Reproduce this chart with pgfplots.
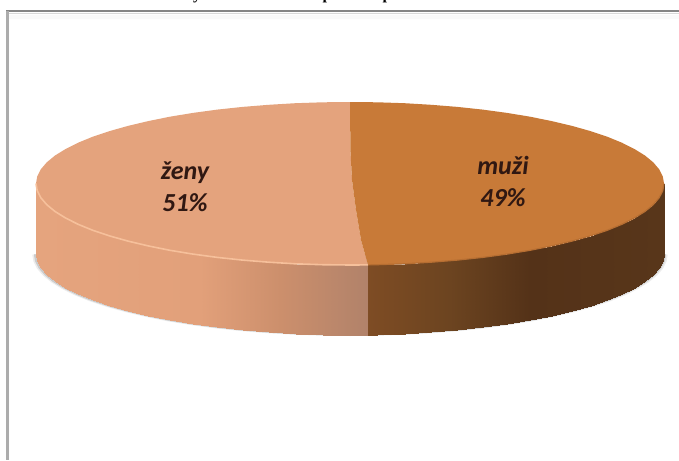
\documentclass[border=0pt]{standalone}
\usepackage{fontspec}
\setmainfont{Carlito}
\newfontfamily\serif{Liberation Serif}
\usepackage{pgfplots}
\usepackage{pgfplotstable}
\pgfplotsset{compat=1.18}

\definecolor{zeny}{RGB}{228,163,125}
\definecolor{zenyrim}{RGB}{246,192,155}
\definecolor{muzi}{RGB}{200,122,56}
\definecolor{muzirim}{RGB}{182,110,50}
\definecolor{labeltext}{RGB}{48,24,18}

% front arc of the top face, px coordinates
\pgfplotstableread{
x y
36.0 183.5
37.2 190.6
40.8 197.7
46.7 204.6
54.9 211.4
65.4 217.9
78.1 224.3
92.8 230.3
109.5 235.9
128.0 241.1
148.2 245.9
169.9 250.3
193.0 254.1
217.3 257.4
242.6 260.1
268.7 262.2
295.5 263.8
322.6 264.7
350.0 265.0
368.0 264.9
377.4 264.7
404.5 263.8
431.3 262.2
457.4 260.1
482.7 257.4
507.0 254.1
530.1 250.3
551.8 245.9
572.0 241.1
590.5 235.9
607.2 230.3
621.9 224.3
634.6 217.9
645.1 211.4
653.3 204.6
659.2 197.7
662.8 190.6
664.0 183.5
}\frontarc

% side wall: first row top edge, second row bottom edge
\pgfplotstableread{
x y
36.0 183.5
37.2 190.6
40.8 197.7
46.7 204.6
54.9 211.4
65.4 217.9
78.1 224.3
92.8 230.3
109.5 235.9
128.0 241.1
148.2 245.9
169.9 250.3
193.0 254.1
217.3 257.4
242.6 260.1
268.7 262.2
295.5 263.8
322.6 264.7
350.0 265.0
367.9 264.9
368.1 264.9
377.4 264.7
404.5 263.8
431.3 262.2
457.4 260.1
482.7 257.4
507.0 254.1
530.1 250.3
551.8 245.9
572.0 241.1
590.5 235.9
607.2 230.3
621.9 224.3
634.6 217.9
645.1 211.4
653.3 204.6
659.2 197.7
662.8 190.6
664.0 183.5
36.0 253.5
37.2 260.6
40.8 267.7
46.7 274.6
54.9 281.4
65.4 287.9
78.1 294.3
92.8 300.3
109.5 305.9
128.0 311.1
148.2 315.9
169.9 320.3
193.0 324.1
217.3 327.4
242.6 330.1
268.7 332.2
295.5 333.8
322.6 334.7
350.0 335.0
367.9 334.9
368.1 334.9
377.4 334.7
404.5 333.8
431.3 332.2
457.4 330.1
482.7 327.4
507.0 324.1
530.1 320.3
551.8 315.9
572.0 311.1
590.5 305.9
607.2 300.3
621.9 294.3
634.6 287.9
645.1 281.4
653.3 274.6
659.2 267.7
662.8 260.6
664.0 253.5
}\sidewall

\begin{document}
\begin{tikzpicture}
\path[use as bounding box] (0pt,0pt) rectangle (679pt,460pt);
\begin{axis}[
  width=679pt, height=460pt, scale only axis,
  at={(0pt,0pt)}, anchor=south west,
  hide axis, clip=true, clip mode=global,
  xmin=0, xmax=679, ymin=0, ymax=460, y dir=reverse,
  colormap={sidegrad}{
    rgb255(36)=(229,164,126)
    rgb255(200)=(226,160,122)
    rgb255(280)=(204,143,108)
    rgb255(367.9)=(177,130,106)
    rgb255(368.1)=(126,76,36)
    rgb255(450)=(108,68,32)
    rgb255(530)=(84,50,24)
    rgb255(664)=(88,54,26)
  },
  point meta min=36, point meta max=664,
]
% frame of the pasted picture
\addplot[gray!4, line width=4pt, forget plot] coordinates {(9,17) (679,17)};
\addplot[gray!30, line width=1.5pt, forget plot] coordinates {(9,13.5) (679,13.5)};
\addplot[gray!95, line width=2pt, forget plot] coordinates {(6,11.5) (679,11.5)};
\addplot[gray!65, line width=3pt, forget plot] coordinates {(7.5,11) (7.5,460)};

% shadow under the disc
\addplot[fill=gray, fill opacity=0.15, draw=none, forget plot]
  table[x expr={350+(\thisrow{x}-350)*1.012}, y expr={\thisrow{y}+71}] {\frontarc} -- cycle;
\addplot[fill=gray, fill opacity=0.3, draw=none, forget plot]
  table[x expr={350+(\thisrow{x}-350)*1.007}, y expr={\thisrow{y}+70.5}] {\frontarc} -- cycle;

% side wall
\addplot[surf, shader=interp, mesh/rows=2, point meta=x, forget plot] table {\sidewall};

% top face
\addplot[fill=zeny, draw=none, forget plot] coordinates {
  (350,102) (322.6,102.3) (295.5,103.2) (268.7,104.8) (242.6,106.9) (217.3,109.6)
  (193,112.9) (169.9,116.7) (148.2,121.1) (128,125.9) (109.5,131.1) (92.8,136.7)
  (78.1,142.7) (65.4,149.1) (54.9,155.6) (46.7,162.4) (40.8,169.3) (37.2,176.4)
  (36,183.5) (37.2,190.6) (40.8,197.7) (46.7,204.6) (54.9,211.4) (65.4,217.9)
  (78.1,224.3) (92.8,230.3) (109.5,235.9) (128,241.1) (148.2,245.9) (169.9,250.3)
  (193,254.1) (217.3,257.4) (242.6,260.1) (268.7,262.2) (295.5,263.8) (322.6,264.7)
  (350,265) (368,264.9) (361,240) (356,210) (352,180) (350.4,150)
} -- cycle;
\addplot[fill=muzi, draw=none, forget plot] coordinates {
  (350,102) (350.4,150) (352,180) (356,210) (361,240) (368,264.9)
  (377.4,264.7) (404.5,263.8) (431.3,262.2) (457.4,260.1) (482.7,257.4) (507,254.1)
  (530.1,250.3) (551.8,245.9) (572,241.1) (590.5,235.9) (607.2,230.3) (621.9,224.3)
  (634.6,217.9) (645.1,211.4) (653.3,204.6) (659.2,197.7) (662.8,190.6) (664,183.5)
  (662.8,176.4) (659.2,169.3) (653.3,162.4) (645.1,155.6) (634.6,149.1) (621.9,142.7)
  (607.2,136.7) (590.5,131.1) (572,125.9) (551.8,121.1) (530.1,116.7) (507,112.9)
  (482.7,109.6) (457.4,106.9) (431.3,104.8) (404.5,103.2) (377.4,102.3)
} -- cycle;

% rims
\addplot[zenyrim, line width=1.6pt, forget plot, restrict x to domain=36:368] table {\frontarc};
\addplot[muzirim, line width=1.2pt, forget plot, restrict x to domain=368:664] table {\frontarc};

% labels
\node[font=\fontsize{26}{30}\selectfont\bfseries\itshape, text=labeltext, anchor=base] at (axis cs:185,179.5) {ženy};
\node[font=\fontsize{26}{30}\selectfont\bfseries\itshape, text=labeltext, anchor=base] at (axis cs:185,211) {51\%};
\node[font=\fontsize{26}{30}\selectfont\bfseries\itshape, text=labeltext, anchor=base] at (axis cs:503,174.5) {muži};
\node[font=\fontsize{26}{30}\selectfont\bfseries\itshape, text=labeltext, anchor=base] at (axis cs:503,206) {49\%};

% descenders of the cut-off line above the picture
\node[font=\serif\fontsize{16}{18}\selectfont\bfseries, anchor=base] at (axis cs:197,0) {y};
\node[font=\serif\fontsize{16}{18}\selectfont\bfseries, anchor=base] at (axis cs:327,0) {p};
\node[font=\serif\fontsize{16}{18}\selectfont\bfseries, anchor=base] at (axis cs:387,0) {p};
\end{axis}
\end{tikzpicture}
\end{document}
